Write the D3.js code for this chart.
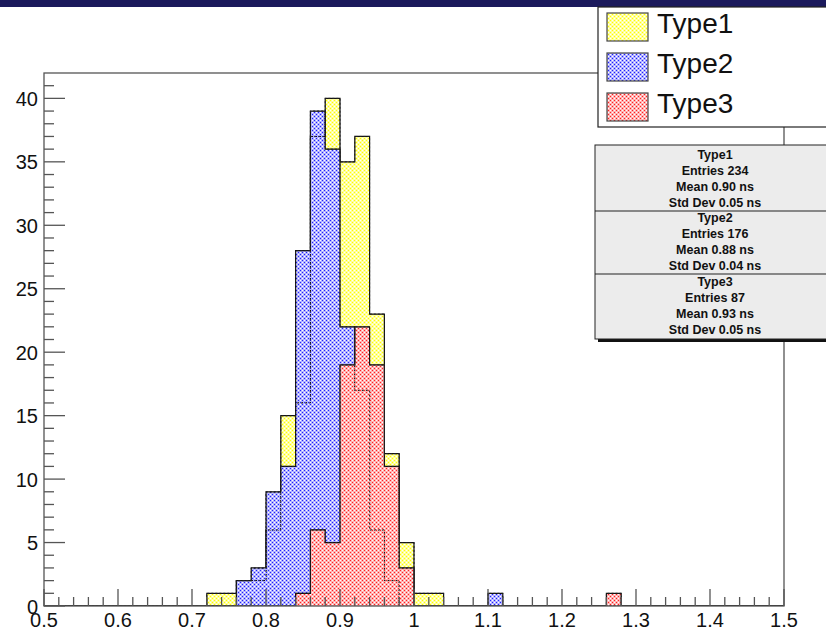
<!DOCTYPE html>
<html>
<head>
<meta charset="utf-8">
<script src="https://cdn.jsdelivr.net/npm/d3@7"></script>
<style>
  body { margin: 0; background: white; }
  svg { display: block; font-family: 'Liberation Sans', Arial, sans-serif; }
</style>
</head>
<body>
<svg id="canvas" width="826" height="632"></svg>
<script>
// histogram: 50 bins of 0.02 ns from 0.5 to 1.5
var binEdges = d3.range(51).map(i => +(0.5 + 0.02*i).toFixed(2));
var type1 = [0,0,0,0,0,0,0,0,0,0, 0,1,1,2,2,6,15,16,37,40, 35,37,23,12,5,1,1,0,0,0, 0,0,0,0,0,0,0,0,0,0, 0,0,0,0,0,0,0,0,0,0];
var type2 = [0,0,0,0,0,0,0,0,0,0, 0,0,0,2,3,9,11,28,39,36, 22,17,6,2,0,0,0,0,0,0, 1,0,0,0,0,0,0,0,0,0, 0,0,0,0,0,0,0,0,0,0];
var type3 = [0,0,0,0,0,0,0,0,0,0, 0,0,0,0,0,0,0,1,6,5, 19,22,19,11,3,0,0,0,0,0, 0,0,0,0,0,0,0,0,1,0, 0,0,0,0,0,0,0,0,0,0];

var seriesNames = ['Type1', 'Type2', 'Type3'];
var entries = [234, 176, 87];
var means = ['0.90', '0.88', '0.93'];
var stdDevs = ['0.05', '0.04', '0.05'];
var xTicks = [0.5, 0.6, 0.7, 0.8, 0.9, 1, 1.1, 1.2, 1.3, 1.4, 1.5];
var yTicks = [0, 5, 10, 15, 20, 25, 30, 35, 40];

var colors = {
  Type1: {light: '#ffff9c', dark: '#ffff00'},
  Type2: {light: '#b2b2ff', dark: '#2020ff'},
  Type3: {light: '#ffb2b2', dark: '#ff2020'}
};

var svg = d3.select('#canvas');
var frameL = 44, frameR = 784, frameT = 73, frameB = 606;

var scaleX = d3.scaleLinear().domain([0.5, 1.5]).range([frameL, frameR]);
var scaleY = d3.scaleLinear().domain([0, 42]).range([frameB, frameT]);

// dotted fill patterns, all on the same pixel grid
var defs = svg.append('defs');
for ( var name of seriesNames ) {
  var p = defs.append('pattern')
    .attr('id', 'pat_'+name).attr('patternUnits', 'userSpaceOnUse')
    .attr('width', 4).attr('height', 4);
  p.append('path')
    .attr('d', 'M0,0h4v4h-4z M0,0h1v1h-1z M2,2h1v1h-1z')
    .attr('fill-rule', 'evenodd').attr('fill', colors[name].light);
  p.append('rect').attr('x', 2).attr('y', 0).attr('width', 1).attr('height', 1).attr('fill', colors[name].dark);
  p.append('rect').attr('x', 0).attr('y', 2).attr('width', 1).attr('height', 1).attr('fill', colors[name].dark);
}
defs.append('clipPath').attr('id', 'frameClip')
  .append('rect').attr('x', frameL).attr('y', frameT).attr('width', frameR-frameL).attr('height', frameB-frameT);

// window bar on top
svg.append('rect').attr('x', 0).attr('y', 0).attr('width', 826).attr('height', 7).attr('fill', '#1b1a5c');

// histograms, drawn one over the other (no stacking)
var histData = {Type1: type1, Type2: type2, Type3: type3};
var area = d3.area().curve(d3.curveStepAfter)
  .x(d => scaleX(d[0])).y0(scaleY(0)).y1(d => scaleY(d[1]));
var line = d3.line().curve(d3.curveStepAfter)
  .x(d => scaleX(d[0])).y(d => scaleY(d[1]));

function histPoints(counts) {
  var pts = counts.map((c, i) => [binEdges[i], c]);
  pts.push([binEdges[50], 0]);
  return pts;
}

var hg = svg.append('g').attr('clip-path', 'url(#frameClip)');
for ( var name of seriesNames ) {
  var pts = histPoints(histData[name]);
  hg.append('path').attr('d', area(pts)).attr('fill', 'url(#pat_'+name+')');
  hg.append('path').attr('d', line(pts))
    .attr('fill', 'none').attr('stroke', '#111').attr('stroke-width', 1.2);
}
// outlines hidden under later fills still show through the pattern
for ( var name of seriesNames ) {
  hg.append('path').attr('d', line(histPoints(histData[name])))
    .attr('fill', 'none').attr('stroke', '#222').attr('stroke-width', 1)
    .attr('stroke-dasharray', '2,2');
}

// frame and axes
var axisColor = '#555';
svg.append('rect').attr('x', frameL).attr('y', frameT).attr('width', frameR-frameL).attr('height', frameB-frameT)
  .attr('fill', 'none').attr('stroke', axisColor).attr('stroke-width', 1.3);

var xMinor = d3.range(51).map(i => 0.5 + 0.02*i);
svg.append('g').selectAll('line').data(xMinor).enter().append('line')
  .attr('x1', d => scaleX(d)).attr('x2', d => scaleX(d))
  .attr('y1', frameB).attr('y2', (d, i) => i % 5 == 0 ? frameB-17 : frameB-9)
  .attr('stroke', axisColor).attr('stroke-width', 1.3);
svg.append('g').selectAll('text').data(xTicks).enter().append('text')
  .text(d => d)
  .attr('x', d => scaleX(d)).attr('y', 627)
  .attr('font-size', '20px').attr('text-anchor', 'middle').attr('fill', '#111');

var yMinor = d3.range(42);
svg.append('g').selectAll('line').data(yMinor).enter().append('line')
  .attr('y1', d => scaleY(d)).attr('y2', d => scaleY(d))
  .attr('x1', frameL).attr('x2', d => d % 5 == 0 ? frameL+21 : frameL+10)
  .attr('stroke', axisColor).attr('stroke-width', 1.3);
svg.append('g').selectAll('text').data(yTicks).enter().append('text')
  .text(d => d)
  .attr('x', 38).attr('y', d => scaleY(d)+7.5)
  .attr('font-size', '20px').attr('text-anchor', 'end').attr('fill', '#111');

// legend
svg.append('rect').attr('x', 598).attr('y', 7).attr('width', 240).attr('height', 120)
  .attr('fill', 'white').attr('stroke', '#222').attr('stroke-width', 1.2);
seriesNames.forEach(function(name, i) {
  svg.append('rect').attr('x', 607).attr('y', 13 + 40*i).attr('width', 41).attr('height', 28)
    .attr('fill', 'url(#pat_'+name+')').attr('stroke', '#444').attr('stroke-width', 1.2);
  svg.append('text').text(name)
    .attr('x', 657).attr('y', 33 + 40*i)
    .attr('font-size', '28px').attr('fill', '#111');
});

// stats box with shadow
svg.append('rect').attr('x', 598).attr('y', 148).attr('width', 250).attr('height', 194).attr('fill', '#111');
svg.append('rect').attr('x', 595).attr('y', 145).attr('width', 250).attr('height', 194)
  .attr('fill', '#ececec').attr('stroke', '#222').attr('stroke-width', 1);
for ( var sy of [211, 274] ) {
  svg.append('line').attr('x1', 595).attr('x2', 826).attr('y1', sy).attr('y2', sy)
    .attr('stroke', '#222').attr('stroke-width', 1.2);
}
var statTops = [154, 217, 281];
seriesNames.forEach(function(name, i) {
  var rows = [name, 'Entries ' + entries[i], 'Mean ' + means[i] + ' ns', 'Std Dev ' + stdDevs[i] + ' ns'];
  rows.forEach(function(r, j) {
    svg.append('text').text(r)
      .attr('x', 715).attr('y', statTops[i] + 16.3*j + 4.5)
      .attr('font-size', '12.5px').attr('font-weight', 'bold')
      .attr('text-anchor', 'middle').attr('fill', '#111');
  });
});
</script>
</body>
</html>
